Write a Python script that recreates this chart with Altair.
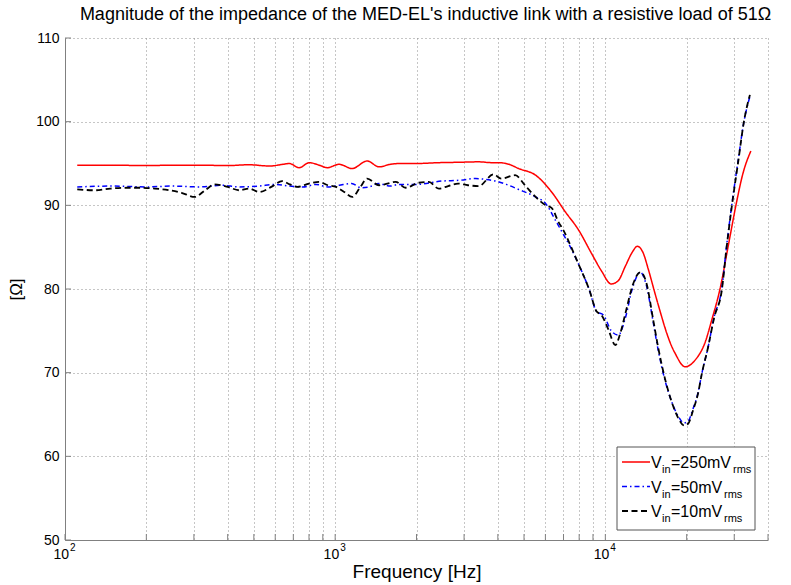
import altair as alt
import pandas as pd

# ---------------- data ----------------
red_f = [111, 150, 200, 250, 315, 400, 480, 571, 640, 676, 736, 802, 873, 934, 1035, 1156,
         1313, 1453, 1600, 1722, 2000, 2420, 2900, 3399, 3800, 4027, 4400, 4775, 5520, 6324,
         7117, 7943, 8873, 9661, 10520, 11170, 11850, 12580, 13130, 13810, 14410, 15290,
         15960, 16650, 17520, 18130, 19740, 21490, 23390, 24820, 26570, 28560, 30430, 32300, 34570]
red_z = [94.8, 94.8, 94.75, 94.8, 94.8, 94.75, 94.85, 94.7, 94.9, 95.0, 94.5, 95.1, 94.8, 94.5, 94.9, 94.4,
         95.3, 94.6, 94.9, 95.0, 95.0, 95.1, 95.15, 95.2, 95.1, 95.1, 94.9, 94.4, 93.6, 91.6,
         89.2, 87.1, 84.3, 82.2, 80.6, 81.0, 82.7, 84.4, 85.1, 84.3, 82.4, 79.4,
         77.3, 75.3, 73.3, 72.3, 70.7, 71.5, 73.6, 76.4, 80.0, 85.3, 90.0, 93.8, 96.5]

blue_f = [111, 150, 200, 250, 315, 380, 442, 520, 600, 680, 760, 850, 940, 1035, 1150, 1250,
          1335, 1450, 1600, 1722, 2000, 2484, 2900, 3310, 3600, 3927, 4300, 4775, 5520, 6020,
          6540, 7000, 7430, 7950, 8700, 9290, 9830, 10520, 11170, 11850, 12580, 13470, 14170,
          15040, 15690, 16650, 17520, 18600, 19560, 20240, 21120, 22030, 22800, 23990, 25250,
          27020, 28000, 29420, 30960, 32580, 34280]
blue_z = [92.2, 92.3, 92.2, 92.3, 92.2, 92.4, 92.2, 92.3, 92.5, 92.3, 92.2, 92.5, 92.2, 92.4, 92.6, 92.1,
          92.2, 92.6, 92.3, 92.5, 92.5, 92.9, 93.0, 93.2, 93.1, 92.9, 92.5, 91.9, 91.0, 90.2,
          88.2, 86.5, 85.0, 83.0, 80.0, 77.3, 76.9, 75.0, 74.5, 76.5, 80.0, 82.0, 80.5,
          76.0, 72.7, 69.0, 66.7, 64.8, 64.0, 64.2, 65.7, 67.6, 70.0, 73.0, 76.6,
          80.2, 84.7, 90.2, 95.2, 100.0, 103.0]

black_f = [111, 130, 147, 170, 189, 215, 244, 270, 302, 330, 358, 400, 442, 480, 524, 580,
           636, 680, 725, 800, 873, 940, 1008, 1080, 1156, 1240, 1313, 1453, 1560, 1675, 1824,
           2038, 2221, 2420, 2620, 2851, 3100, 3399, 3853, 4119, 4637, 5040, 5520, 6020, 6324,
           6710, 7000, 7430, 7950, 8700, 9290, 9661, 10250, 10890, 11380, 11950, 12580, 13470,
           14170, 15040, 15690, 16650, 17520, 18600, 19560, 20240, 21120, 22030, 22800, 23990,
           25250, 27020, 28000, 29420, 30960, 32580, 34280]
black_z = [91.9, 91.8, 92.0, 92.1, 92.1, 92.0, 91.8, 91.5, 91.0, 91.8, 92.5, 92.2, 91.8, 92.0, 91.6, 92.2,
           92.9, 92.5, 92.2, 92.6, 92.8, 92.4, 92.2, 91.6, 91.0, 92.2, 93.2, 92.4, 92.6, 92.8, 92.1,
           92.7, 92.8, 92.0, 92.3, 92.6, 92.4, 92.3, 93.7, 93.2, 93.6, 92.4, 91.0, 90.0, 89.7,
           88.0, 87.0, 85.2, 83.0, 80.0, 77.3, 76.9, 75.2, 73.3, 74.8, 77.5, 80.3, 82.0,
           80.8, 76.3, 73.0, 69.2, 66.7, 64.6, 63.7, 63.9, 65.5, 67.5, 70.0, 73.0,
           76.5, 80.0, 84.5, 90.0, 95.0, 100.0, 103.2]

x_grid = [100, 200, 300, 400, 500, 600, 700, 800, 900,
          1000, 2000, 3000, 4000, 5000, 6000, 7000, 8000, 9000,
          10000, 20000, 30000, 40000]
x_major = [100, 1000, 10000]
x_exponents = ["2", "3", "4"]
y_ticks = [50, 60, 70, 80, 90, 100, 110]

legend_values = ["=250mV", "=50mV", "=10mV"]
legend_colors = ["#ff0000", "#0000ff", "#000000"]
legend_dashes = [[1, 0], [5, 3, 1.5, 3], [6, 3.5]]
legend_widths = [1.5, 1.5, 1.8]
legend_rms_dx = [62, 53, 53]

FONT = "Liberation Sans"
W, H = 703, 502

xs = alt.Scale(type="log", domain=[100, 40000], nice=False)
ys = alt.Scale(domain=[50, 110], nice=False, zero=False)

x_axis = alt.Axis(values=x_grid, labels=False, ticks=False, grid=True,
                  gridDash=[1, 3], gridColor="#8c8c8c", gridOpacity=1,
                  domainColor="#808080", title="Frequency [Hz]",
                  titleFontSize=19, titleFontWeight="normal", titleFont=FONT,
                  titleColor="#000000", titlePadding=22)
y_axis = alt.Axis(values=y_ticks, ticks=False, grid=True, gridDash=[1, 3],
                  gridColor="#8c8c8c", gridOpacity=1, domainColor="#808080",
                  labelFontSize=14, labelFont=FONT, labelColor="#000000",
                  labelPadding=6, title="[Ω]", titleFontSize=17,
                  titleFontWeight="normal", titleFont=FONT, titleColor="#000000",
                  titlePadding=10)

def X(field):
    return alt.X(field, scale=xs, axis=x_axis)

def Y(field):
    return alt.Y(field, scale=ys, axis=y_axis)

def series(f, z, color, dash, width):
    df = pd.DataFrame({"f": f, "z": z})
    return alt.Chart(df).mark_line(color=color, strokeDash=dash, strokeWidth=width,
                                   interpolate="monotone", clip=True).encode(
        x=X("f:Q"), y=Y("z:Q"))

red = series(red_f, red_z, "#ff0000", [1, 0], 1.5)
blue = series(blue_f, blue_z, "#0000ff", [5, 3, 1.5, 3], 1.5)
black = series(black_f, black_z, "#000000", [6, 3.5], 1.8)

# inward tick marks (MATLAB style)
xt = alt.Chart(pd.DataFrame({"f": x_grid})).mark_rule(color="#808080").encode(
    x=X("f:Q"), y=alt.value(H), y2=alt.value(H - 6))
yt = alt.Chart(pd.DataFrame({"z": y_ticks})).mark_rule(color="#808080").encode(
    y=Y("z:Q"), x=alt.value(0), x2=alt.value(6))

# x tick labels 10^n
lab_df = pd.DataFrame({"f": x_major, "e": x_exponents})
xl_base = alt.Chart(lab_df).mark_text(text="10", fontSize=14, font=FONT, align="right",
                                      baseline="alphabetic", dx=4, color="#000").encode(
    x=X("f:Q"), y=alt.value(H + 19))
xl_exp = alt.Chart(lab_df).mark_text(fontSize=10, font=FONT, align="left",
                                     baseline="alphabetic", dx=5, color="#000").encode(
    x=X("f:Q"), y=alt.value(H + 11), text="e:N")

# legend
one = pd.DataFrame({"a": [0]})
BX0, BX1, BY0, BY1 = 552, 690, 409, 492
leg_layers = [alt.Chart(one).mark_rect(fill="white", stroke="#555555", strokeWidth=1).encode(
    x=alt.value(BX0), x2=alt.value(BX1), y=alt.value(BY0), y2=alt.value(BY1))]
for i, val in enumerate(legend_values):
    ly = BY0 + 15 + i * 24.5
    leg_layers.append(alt.Chart(one).mark_rule(color=legend_colors[i], strokeDash=legend_dashes[i],
                                               strokeWidth=legend_widths[i]).encode(
        x=alt.value(BX0 + 5), x2=alt.value(BX0 + 33), y=alt.value(ly)))
    leg_layers.append(alt.Chart(one).mark_text(text="V", fontSize=16, font=FONT, align="left",
                                               baseline="alphabetic", color="#000").encode(
        x=alt.value(BX0 + 34), y=alt.value(ly + 6)))
    leg_layers.append(alt.Chart(one).mark_text(text="in", fontSize=11, font=FONT, align="left",
                                               baseline="alphabetic", color="#000").encode(
        x=alt.value(BX0 + 45), y=alt.value(ly + 11)))
    leg_layers.append(alt.Chart(one).mark_text(text=val, fontSize=16, font=FONT, align="left",
                                               baseline="alphabetic", color="#000").encode(
        x=alt.value(BX0 + 54), y=alt.value(ly + 6)))
    leg_layers.append(alt.Chart(one).mark_text(text="rms", fontSize=11, font=FONT, align="left",
                                               baseline="alphabetic", color="#000").encode(
        x=alt.value(BX0 + 54 + legend_rms_dx[i]), y=alt.value(ly + 11)))

chart = alt.layer(red, blue, black, xt, yt, xl_base, xl_exp, *leg_layers).properties(
    width=W, height=H,
    title=alt.TitleParams(
        "Magnitude of the impedance of the MED-EL's inductive link with a resistive load of 51Ω",
        fontSize=18, font=FONT, fontWeight="normal", color="#000", anchor="middle",
        offset=7, dx=9),
    autosize=alt.AutoSizeParams(type="none"),
    padding={"left": 65, "top": 38, "right": 791 - 65 - W, "bottom": 585 - 38 - H},
    background="white",
).configure_view(stroke=None)

chart.save("out.html", embed_options={"renderer": "svg", "actions": False})
